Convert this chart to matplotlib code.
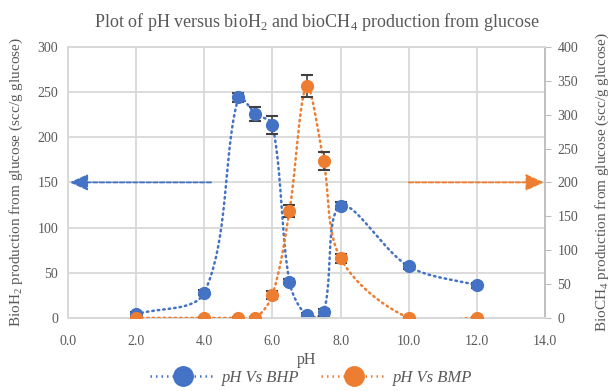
import numpy as np
import matplotlib.pyplot as plt
from matplotlib.lines import Line2D

plt.rcParams['font.family'] = ['Liberation Serif', 'DejaVu Serif']
plt.rcParams['mathtext.fontset'] = 'custom'
plt.rcParams['mathtext.rm'] = 'Liberation Serif'

ph = [2.0, 4.0, 5.0, 5.5, 6.0, 6.5, 7.0, 7.5, 8.0, 10.0, 12.0]
bhp = [4, 28, 244, 226, 214, 40, 3, 6, 124, 57, 36]
bhp_err = [2, 3, 5, 8, 10, 3, 2, 4, 4, 3, 3]
bmp = [0, 0, 0, 0, 34, 158, 342, 232, 88, 0, 0]
bmp_err = [2, 2, 2, 2, 6, 9, 16, 13, 7, 2, 2]

blue = '#4472c4'
orange = '#ed7d31'
grey = '#595959'


def smooth(x, y, sx, sy, n=40):
    # excel-like smoothed line, worked out in screen units (sx, sy = px per data unit)
    p = np.column_stack([np.asarray(x, float) * sx, np.asarray(y, float) * sy])
    m = len(p)
    d = np.hypot(*np.diff(p, axis=0).T)
    out = []
    for i in range(m - 1):
        p0 = p[i - 1] if i > 0 else p[i]
        p3 = p[i + 2] if i + 2 < m else p[i + 1]
        da = d[i - 1] if i > 0 else 0
        dc = d[i + 1] if i + 2 < m else 0
        c1 = p[i] + (p[i + 1] - p0) * d[i] / (da + d[i]) / 3
        c2 = p[i + 1] - (p3 - p[i]) * d[i] / (d[i] + dc) / 3
        t = np.linspace(0, 1, n)[:, None]
        out.append((1 - t) ** 3 * p[i] + 3 * (1 - t) ** 2 * t * c1 + 3 * (1 - t) * t ** 2 * c2 + t ** 3 * p[i + 1])
    out = np.vstack(out)
    return out[:, 0] / sx, out[:, 1] / sy


fig = plt.figure(figsize=(6.13, 3.91), dpi=100)
ax = fig.add_axes([0.111, 0.187, 0.778, 0.693])
ax2 = ax.twinx()

dots = (0, (0.6, 1.6))
sx_, sy_ = smooth(ph, bhp, 34.07, 0.903)
ax.plot(sx_, sy_, color=blue, lw=1.8, ls=dots, dash_capstyle='round', zorder=3)
ax.errorbar(ph, bhp, yerr=bhp_err, fmt='o', color=blue, ms=8.5, ecolor='#404040',
            elinewidth=1.2, capsize=4.5, capthick=1.5, zorder=4)

sx_, sy_ = smooth(ph, bmp, 34.07, 0.6775)
ax2.plot(sx_, sy_, color=orange, lw=1.8, ls=dots, dash_capstyle='round', zorder=3)
ax2.errorbar(ph, bmp, yerr=bmp_err, fmt='o', color=orange, ms=8.5, ecolor='#404040',
             elinewidth=1.2, capsize=4.5, capthick=1.5, zorder=4)

# arrows pointing to each axis
arrow = '-|>,head_length=0.55,head_width=0.25'
ax.annotate('', xy=(0.05, 150), xytext=(4.2, 150),
            arrowprops=dict(arrowstyle=arrow, mutation_scale=20, color=blue,
                            lw=1.3, ls=(0, (2.5, 1.2)), shrinkA=0, shrinkB=0))
ax2.annotate('', xy=(13.97, 200), xytext=(10.0, 200),
             arrowprops=dict(arrowstyle=arrow, mutation_scale=20, color=orange,
                             lw=1.3, ls=(0, (2.5, 1.2)), shrinkA=0, shrinkB=0))

ax.set_xlim(0, 14)
ax.set_ylim(0, 300)
ax2.set_ylim(0, 400)
ax.set_xticks(np.arange(0, 14.1, 2))
ax.set_xticklabels([f'{v:.1f}' for v in np.arange(0, 14.1, 2)])
ax.set_yticks(range(0, 301, 50))
ax2.set_yticks(range(0, 401, 50))

ax.grid(True, color='#d9d9d9', lw=1.3)
ax.set_axisbelow(True)
for a in (ax, ax2):
    for s in a.spines.values():
        s.set_color('#d9d9d9')
        s.set_linewidth(1.3)
    a.tick_params(colors=grey, labelsize=10, length=0, pad=7)
ax.tick_params(axis='x', pad=12)
ax2.spines['right'].set_color('#bfbfbf')
ax2.tick_params(axis='y', length=4, color='#bfbfbf', pad=5)

ax.set_xlabel('pH', color=grey, fontsize=11.5, labelpad=3)
ax.set_ylabel('BioH$_2$ production from glucose (scc/g glucose)', color=grey, fontsize=11, labelpad=9)
ax2.set_ylabel('BioCH$_4$ production from glucose (scc/g glucose)', color=grey, fontsize=11, labelpad=11)
ax.set_title('Plot of pH versus bioH$_2$ and bioCH$_4$ production from glucose',
             color=grey, fontsize=13, pad=14, x=0.521)

handles = [Line2D([], [], color=blue, lw=1.8, ls=dots, marker='o', ms=14),
           Line2D([], [], color=orange, lw=1.8, ls=dots, marker='o', ms=14)]
leg = fig.legend(handles, ['pH Vs BHP', 'pH Vs BMP'], loc='center', bbox_to_anchor=(0.508, 0.033),
                 ncol=2, frameon=False, handlelength=3.9, handletextpad=0.4, columnspacing=1.3,
                 prop={'style': 'italic', 'size': 12})
for t in leg.get_texts():
    t.set_color(grey)

fig.savefig('out.png', dpi=100)
